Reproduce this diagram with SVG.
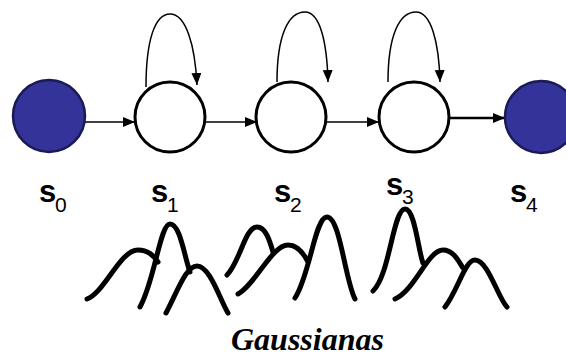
<svg xmlns="http://www.w3.org/2000/svg" width="566" height="358" viewBox="0 0 566 358">
<style>
.state{fill:#ffffff;stroke:#000000;stroke-width:3}
.term{fill:#333399;stroke:#1a1a55;stroke-width:2.5}
.edge{fill:none;stroke:#000000;stroke-width:1.5}
.gauss{fill:none;stroke:#000000;stroke-width:5;stroke-linecap:round;stroke-linejoin:round}
.s{font-family:"Liberation Sans",Arial,sans-serif;font-weight:bold;font-size:31px;fill:#000}
.sub{font-family:"Liberation Sans",Arial,sans-serif;font-size:21px;fill:#000}
.cap{font-family:"Liberation Serif","Times New Roman",serif;font-weight:bold;font-style:italic;font-size:32px;fill:#000}
</style>
<defs>
<marker id="ah" markerUnits="userSpaceOnUse" markerWidth="14" markerHeight="12" refX="12" refY="5" orient="auto">
<path d="M0,0 L12,5 L0,10 Z" fill="#000"/>
</marker>
</defs>
<rect width="566" height="358" fill="#ffffff"/>
<g id="connectors">
<path class="edge" d="M85,122 L135,122" marker-end="url(#ah)"/>
<path class="edge" d="M205,122 L257,122" marker-end="url(#ah)"/>
<path class="edge" d="M326,122 L379,122" marker-end="url(#ah)"/>
<path class="edge" style="stroke-width:2.5" d="M450,118 L505,118" marker-end="url(#ah)"/>
<path class="edge" d="M146,87 C146,40 155,14 170,14 C186,14 195,45 197,85" marker-end="url(#ah)"/>
<path class="edge" d="M277,82 C277,36 288,12 305,12 C320,12 327,42 328,82" marker-end="url(#ah)"/>
<path class="edge" d="M388,82 C388,36 399,12 416,12 C431,12 439,42 440,82" marker-end="url(#ah)"/>
</g>
<g id="s0"><circle class="term" cx="49" cy="116" r="36"/><text x="39" y="202" class="s">s</text><text x="55" y="212" class="sub">0</text></g>
<g id="s1"><circle class="state" cx="170" cy="117" r="35"/><text x="151" y="202" class="s">s</text><text x="167" y="212" class="sub">1</text></g>
<g id="s2"><circle class="state" cx="291" cy="117" r="35"/><text x="274" y="202" class="s">s</text><text x="290" y="212" class="sub">2</text></g>
<g id="s3"><circle class="state" cx="414" cy="117" r="35"/><text x="386" y="195" class="s">s</text><text x="402" y="204" class="sub">3</text></g>
<g id="s4"><circle class="term" cx="541" cy="117" r="36"/><text x="510" y="202" class="s">s</text><text x="526" y="212" class="sub">4</text></g>
<g id="gaussians">
<path class="gauss" d="M87,299 C105,292 120,250 138,250 C148,250 153,255 158,262"/>
<path class="gauss" d="M140,307 C155,280 160,224 170,224 C180,224 184,255 190,272"/>
<path class="gauss" d="M166,313 C178,290 186,266 197,266 C210,266 220,300 228,313"/>
<path class="gauss" d="M227,275 C240,262 245,227 257,227 C266,227 270,242 273,252"/>
<path class="gauss" d="M238,294 C255,285 272,245 288,245 C298,245 304,254 308,262"/>
<path class="gauss" d="M295,298 C310,275 315,217 327,217 C340,217 345,280 355,299"/>
<path class="gauss" d="M373,291 C390,275 393,209 405,209 C415,209 418,250 423,263"/>
<path class="gauss" d="M395,299 C415,290 428,250 443,250 C453,250 458,260 463,268"/>
<path class="gauss" d="M445,307 C458,290 465,260 475,260 C488,260 498,298 507,307"/>
</g>
<text x="231" y="350" class="cap">Gaussianas</text>
</svg>
